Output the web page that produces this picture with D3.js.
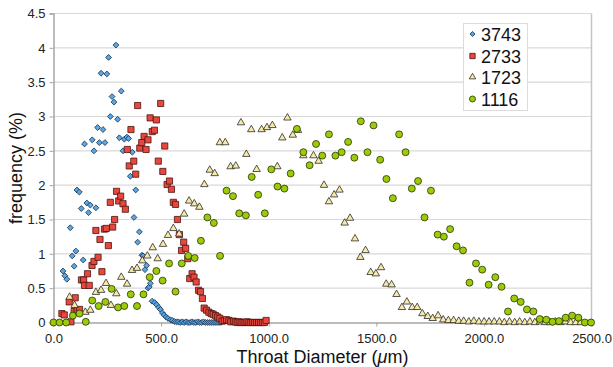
<!DOCTYPE html>
<html>
<head>
<meta charset="utf-8">
<script src="https://cdn.jsdelivr.net/npm/d3@7/dist/d3.min.js"></script>
<style>
  html, body { margin: 0; padding: 0; background: #fff; }
  svg { display: block; font-family: "Liberation Sans", Arial, Helvetica, sans-serif; }
</style>
</head>
<body>
<svg id="chart" width="613" height="367"></svg>
<script>
// ---------- data ----------
const seriesNames = ["3743", "2733", "1723", "1116"];

const x3743 = [44,53,62,78,87,96,104,109,120,129,138,144,155,163,171,180,188,197,205,213,221,230,239,248,256,264,272,281,290,298,306,315,323,329,341,349,357,366,374,382,391,399,411,416,425,433,439,445,450,458,470,479,489,497,506,514,523,532,543,552,562,571,580,589,598,607,616,625,634,643,652,661,670,679,688,697,706,715,724,733,742,751,760,769,778];
const y3743 = [0.75,0.68,0.63,1.38,0.97,0.82,1.04,1.93,1.90,1.66,0.91,2.60,1.74,1.60,1.71,2.66,2.50,1.67,2.84,2.62,3.63,2.81,2.62,3.62,3.86,3.00,3.29,3.21,4.04,2.96,2.69,3.37,2.50,2.67,2.70,2.68,2.13,2.48,1.53,1.93,1.17,1.32,0.98,0.97,0.77,0.83,0.50,0.52,0.57,0.31,0.29,0.26,0.22,0.19,0.14,0.11,0.08,0.06,0.04,0.03,0.015,0.01,0.01,0,0.01,0,0.01,0,0,0.01,0,0,0.01,0,0,0.01,0,0,0,0,0,0,0,0,0];

const x2733 = [39,50,73,81,96,101,110,121,130,140,144,158,166,179,188,197,207,216,225,237,245,255,264,275,284,293,303,312,323,334,343,352,360,373,382,391,401,410,421,430,439,449,459,469,478,487,498,508,517,528,539,548,557,567,576,585,595,605,614,624,633,644,653,663,674,683,692,700,711,722,733,742,753,763,773,784,794,804,815,824,836,845,854,863,872,881,890,899,908,917,926,935,944,953,962,971,980,988];
const y2733 = [0.13,0.11,0.30,0.01,0.16,0.36,0.18,0.19,0.62,0.62,0.54,0.71,0.54,0.83,0.89,1.34,0.95,1.21,0.74,1.36,1.37,1.12,1.75,1.39,1.50,1.91,1.77,1.84,1.73,1.65,2.52,2.28,2.81,2.35,2.16,3.16,2.54,2.62,2.71,2.52,2.66,2.98,2.78,2.80,2.95,2.35,3.19,2.20,2.57,2.01,2.06,1.94,1.75,1.72,1.50,1.28,1.05,1.17,1.08,0.93,0.64,0.71,0.66,0.59,0.47,0.45,0.35,0.21,0.18,0.15,0.13,0.12,0.10,0.08,0.06,0.02,0.03,0.04,0.03,0.01,0.02,0.01,0,0.01,0,0,0,0.01,0,0,0,0,0,0,0,0,0,0.03];

const x1723 = [75,98,148,171,197,221,244,267,292,315,342,365,388,413,436,461,484,509,532,557,584,607,630,654,678,701,726,749,773,798,823,847,871,896,919,944,967,992,1017,1040,1063,1087,1112,1136,1161,1208,1232,1257,1280,1304,1329,1353,1378,1401,1426,1450,1474,1498,1522,1546,1571,1594,1619,1642,1667,1690,1714,1739,1762,1787,1811,1835,1859,1883,1906,1930,1953,1977,2001,2024,2048,2072,2095,2119,2143,2166,2190,2214,2237,2261,2285,2308,2332,2356,2379,2403,2427,2450];
const y1723 = [0.37,0.25,0.15,0.18,0.44,0.47,0.57,0.25,0.42,0.66,0.56,0.76,0.79,0.90,0.97,1.09,0.93,1.14,1.27,1.37,1.29,1.58,1.77,1.73,1.68,2.01,2.22,2.17,2.62,2.62,2.27,2.28,2.91,2.45,2.81,2.23,2.81,2.84,2.87,2.27,2.69,2.98,2.73,2.80,2.43,2.43,2.35,2.00,1.76,1.86,1.93,1.45,1.52,1.22,0.95,1.05,0.73,0.71,0.80,0.56,0.55,0.41,0.22,0.30,0.22,0.22,0.13,0.09,0.06,0.10,0.04,0.03,0.03,0.02,0.02,0.01,0.02,0.01,0.01,0.01,0.01,0.01,0,0.01,0,0.01,0,0.01,0,0.01,0,0,0.01,0,0.01,0,0,0];

const x1116 = [0,28,59,90,121,150,180,210,241,270,300,329,359,388,418,447,478,507,537,567,596,626,656,685,715,745,774,804,834,863,894,921,951,982,1012,1041,1073,1102,1131,1161,1190,1220,1249,1280,1310,1339,1369,1398,1428,1459,1487,1518,1547,1577,1606,1636,1665,1694,1724,1754,1785,1814,1843,1873,1903,1933,1963,1992,2022,2053,2082,2112,2141,2171,2200,2230,2260,2290,2319,2349,2380,2410,2439,2469,2498];
const y1116 = [0,0,0,0.10,0.13,0.01,0.32,0.24,0.30,0.49,0.22,0.24,0.41,0.24,0.41,0.66,0.75,0.61,0.86,0.45,0.86,0.97,0.94,1.19,1.53,1.45,0.97,1.92,1.84,1.59,1.56,2.12,1.86,1.59,2.23,1.98,1.95,2.17,2.82,2.48,2.29,2.60,2.43,2.74,2.43,2.48,2.63,2.40,2.93,2.48,2.87,2.37,2.09,1.81,2.74,2.48,1.95,2.06,1.53,1.92,1.28,1.25,1.36,1.11,1.05,0.58,0.86,0.77,0.55,0.66,0.52,0.16,0.35,0.30,0.19,0.16,0.05,0.04,0.01,0.02,0.07,0.10,0.07,0,0];

const xTicks = [0, 500, 1000, 1500, 2000, 2500];
const yTicks = [0, 0.5, 1, 1.5, 2, 2.5, 3, 3.5, 4, 4.5];

// ---------- layout ----------
const svg = d3.select("#chart");
const L = 53.5, R = 591.5, T = 13.5, B = 322.5;

const x = d3.scaleLinear().domain([0, 2500]).range([L, R]);
const y = d3.scaleLinear().domain([0, 4.5]).range([B, T]);

// gridlines
svg.append("g")
  .selectAll("line").data(yTicks.filter(d => d > 0)).join("line")
  .attr("x1", L).attr("x2", R)
  .attr("y1", d => y(d)).attr("y2", d => y(d))
  .attr("stroke", "#d9d9d9").attr("stroke-width", 1.2);

// right border
svg.append("line").attr("x1", R).attr("x2", R).attr("y1", T).attr("y2", B)
  .attr("stroke", "#c4c4c4").attr("stroke-width", 1.5);

// axes
const xAxis = svg.append("g").attr("transform", `translate(0,${B})`)
  .call(d3.axisBottom(x).tickValues(xTicks).tickFormat(d3.format(".1f")).tickSize(4).tickPadding(7));
const yAxis = svg.append("g").attr("transform", `translate(${L},0)`)
  .call(d3.axisLeft(y).tickValues(yTicks).tickFormat(d => String(d)).tickSize(4).tickPadding(4));

[xAxis, yAxis].forEach(a => {
  a.select(".domain").attr("stroke", "#a6a6a6").attr("stroke-width", 1.5);
  a.selectAll(".tick line").attr("stroke", "#a6a6a6");
  a.selectAll(".tick text").attr("fill", "#222").style("font-size", "13px")
    .style("font-family", "'Liberation Sans', Arial, sans-serif");
});

// axis titles
const xt = svg.append("text").attr("x", (L + R) / 2).attr("y", 362.5)
  .attr("text-anchor", "middle").attr("fill", "#111").style("font-size", "18px");
xt.append("tspan").text("Throat Diameter (");
xt.append("tspan").style("font-style", "italic").text("μ");
xt.append("tspan").text("m)");

svg.append("text").attr("transform", `translate(22,${(T + B) / 2}) rotate(-90)`)
  .attr("text-anchor", "middle").attr("fill", "#111").style("font-size", "18px")
  .text("frequency (%)");

// ---------- series ----------
const styles = [
  { name: seriesNames[0], xs: x3743, ys: y3743, type: d3.symbolSquare, size: 17, rot: 45, fill: "#5aa7e6", stroke: "#1e3550" },
  { name: seriesNames[1], xs: x2733, ys: y2733, type: d3.symbolSquare, size: 38, rot: 0, fill: "#e8473d", stroke: "#4a1410" },
  { name: seriesNames[2], xs: x1723, ys: y1723, type: d3.symbolTriangle, size: 24, rot: 0, fill: "#f7eaa6", stroke: "#2b2b2b" },
  { name: seriesNames[3], xs: x1116, ys: y1116, type: d3.symbolCircle, size: 38, rot: 0, fill: "#9ccb0c", stroke: "#2b3300" }
];

const plot = svg.append("g");
styles.forEach(s => {
  const sym = d3.symbol().type(s.type).size(s.size);
  const pts = s.xs.map((v, i) => [v, s.ys[i]]);
  plot.append("g").selectAll("path").data(pts).join("path")
    .attr("d", sym)
    .attr("transform", d => `translate(${x(d[0])},${y(d[1])}) rotate(${s.rot})`)
    .attr("fill", s.fill).attr("stroke", s.stroke).attr("stroke-width", 0.8);
});

// ---------- legend ----------
const lg = svg.append("g");
lg.append("rect").attr("x", 463.5).attr("y", 23.5).attr("width", 64).attr("height", 87)
  .attr("fill", "#fff").attr("stroke", "#dcdcdc").attr("stroke-width", 1);
const legY = [34, 56, 77, 99];
styles.forEach((s, i) => {
  const sym = d3.symbol().type(s.type).size(s.size * 0.75);
  lg.append("path").attr("d", sym)
    .attr("transform", `translate(472.5,${legY[i]}) rotate(${s.rot})`)
    .attr("fill", s.fill).attr("stroke", s.stroke).attr("stroke-width", 0.8);
  lg.append("text").attr("x", 481).attr("y", legY[i] + 6.5)
    .attr("fill", "#111").style("font-size", "18px").text(s.name);
});
</script>
</body>
</html>
